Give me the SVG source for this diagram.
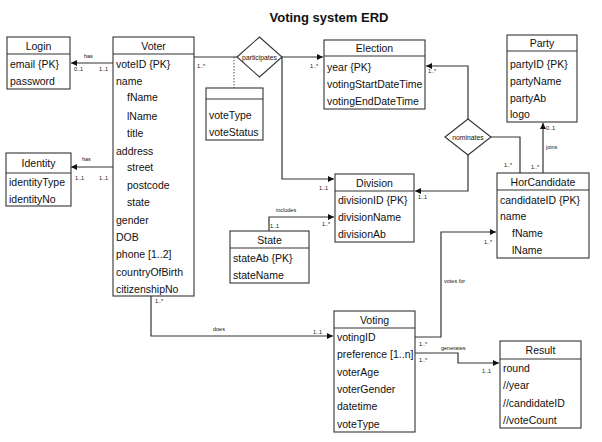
<svg xmlns="http://www.w3.org/2000/svg" width="602" height="442" viewBox="0 0 602 442">
<style>
text{font-family:"Liberation Sans",Arial,sans-serif;fill:#111}
.t{font-size:13px;font-weight:bold;text-anchor:middle}
.h{font-size:10.5px;text-anchor:middle}
.a{font-size:10.5px}
.s{font-size:5.5px}
.rl{font-size:6.8px}
.box{fill:#fff;stroke:#333;stroke-width:1.1}
.ln{fill:none;stroke:#333;stroke-width:1.2}
.dot{fill:none;stroke:#555;stroke-width:1;stroke-dasharray:1.5,1.5}
</style>
<defs>
<marker id="ar" viewBox="0 0 10 10" refX="10" refY="5" markerWidth="6" markerHeight="6" orient="auto" markerUnits="userSpaceOnUse">
<path d="M0,0 L10,5 L0,10 z" fill="#111"/>
</marker>
</defs>
<rect width="602" height="442" fill="#fff"/>
<text class="t" x="329" y="22">Voting system ERD</text>

<g id="connectors">
<line class="ln" x1="113" y1="63" x2="71" y2="63" marker-end="url(#ar)"/>
<text class="s" x="84" y="58">has</text>
<text class="s" x="74" y="71">0..1</text>
<text class="s" x="99" y="71">1..1</text>
<line class="ln" x1="113" y1="167" x2="71" y2="167" marker-end="url(#ar)"/>
<text class="s" x="82" y="161">has</text>
<text class="s" x="75" y="180">1..1</text>
<text class="s" x="99" y="180">1..1</text>
<line class="ln" x1="194" y1="57" x2="237" y2="57"/>
<line class="ln" x1="282" y1="57" x2="323" y2="57" marker-end="url(#ar)"/>
<polyline class="ln" points="282,57 282,179 334,179" marker-end="url(#ar)"/>
<line class="dot" x1="234" y1="57" x2="234" y2="88"/>
<text class="s" x="197" y="68">1..*</text>
<text class="s" x="310" y="68">1..*</text>
<text class="s" x="319" y="190">1..1</text>
<polyline class="ln" points="468,119 468,66 426,66" marker-end="url(#ar)"/>
<polyline class="ln" points="491,137 520,137 520,173"/>
<polyline class="ln" points="468,155 468,191 415,191" marker-end="url(#ar)"/>
<text class="s" x="428" y="73">1..*</text>
<text class="s" x="504" y="167">1..*</text>
<text class="s" x="418" y="199">1..1</text>
<line class="ln" x1="543" y1="173" x2="543" y2="123" marker-end="url(#ar)"/>
<text class="s" x="546" y="130">0..1</text>
<text class="s" x="546" y="149">joins</text>
<text class="s" x="531" y="169">1..*</text>
<polyline class="ln" points="269,231 269,217 334,217" marker-end="url(#ar)"/>
<text class="s" x="276" y="212">includes</text>
<text class="s" x="270" y="228">1..1</text>
<text class="s" x="322" y="226">1..*</text>
<polyline class="ln" points="151,296 151,336 333,336" marker-end="url(#ar)"/>
<text class="s" x="155" y="303">1..*</text>
<text class="s" x="213" y="331">does</text>
<text class="s" x="313" y="334">1..1</text>
<polyline class="ln" points="415,337 441,337 441,232 496,232" marker-end="url(#ar)"/>
<text class="s" x="444" y="283">votes for</text>
<text class="s" x="484" y="244">1..*</text>
<text class="s" x="419" y="346">1..*</text>
<polyline class="ln" points="415,353 458,353 458,363 499,363" marker-end="url(#ar)"/>
<text class="s" x="441" y="350">generates</text>
<text class="s" x="419" y="362">1..*</text>
<text class="s" x="482" y="373">1..1</text>
</g>

<g id="participates">
<polygon class="box" points="237,57 259.5,37 282,57 259.5,77"/>
<text class="rl" x="259.5" y="59.5" text-anchor="middle">participates</text>
</g>

<g id="participatesAttrs">
<rect class="box" x="206" y="88" width="57" height="52"/>
<line class="ln" x1="206" y1="99" x2="263" y2="99"/>
<text class="a" x="209" y="119">voteType</text>
<text class="a" x="209" y="136">voteStatus</text>
</g>

<g id="nominates">
<polygon class="box" points="445,137 468,119 491,137 468,155"/>
<text class="rl" x="468" y="139.5" text-anchor="middle">nominates</text>
</g>

<g id="Login">
<rect class="box" x="7" y="37" width="63" height="52"/>
<line class="ln" x1="7" y1="54" x2="70" y2="54"/>
<text class="h" x="38.5" y="49.5">Login</text>
<text class="a" x="10" y="68">email {PK}</text>
<text class="a" x="10" y="85">password</text>
</g>

<g id="Identity">
<rect class="box" x="6" y="153" width="65" height="53"/>
<line class="ln" x1="6" y1="173" x2="71" y2="173"/>
<text class="h" x="38.5" y="167">Identity</text>
<text class="a" x="9" y="186">identityType</text>
<text class="a" x="9" y="203">identityNo</text>
</g>

<g id="Voter">
<rect class="box" x="113" y="37" width="81" height="259"/>
<line class="ln" x1="113" y1="54" x2="194" y2="54"/>
<text class="h" x="153.5" y="49.5">Voter</text>
<text class="a" x="116" y="68">voteID {PK}</text>
<text class="a" x="116" y="85">name</text>
<text class="a" x="127" y="101">fName</text>
<text class="a" x="127" y="120">lName</text>
<text class="a" x="127" y="137">title</text>
<text class="a" x="116" y="155">address</text>
<text class="a" x="127" y="171">street</text>
<text class="a" x="127" y="189">postcode</text>
<text class="a" x="127" y="206">state</text>
<text class="a" x="116" y="224">gender</text>
<text class="a" x="116" y="241">DOB</text>
<text class="a" x="116" y="258">phone [1..2]</text>
<text class="a" x="116" y="276">countryOfBirth</text>
<text class="a" x="116" y="293">citizenshipNo</text>
</g>

<g id="Election">
<rect class="box" x="324" y="40" width="101" height="69"/>
<line class="ln" x1="324" y1="56" x2="425" y2="56"/>
<text class="h" x="374.5" y="52">Election</text>
<text class="a" x="327" y="71">year {PK}</text>
<text class="a" x="327" y="88">votingStartDateTime</text>
<text class="a" x="327" y="105">votingEndDateTime</text>
</g>

<g id="Party">
<rect class="box" x="507" y="35" width="70" height="87"/>
<line class="ln" x1="507" y1="51" x2="577" y2="51"/>
<text class="h" x="542" y="47">Party</text>
<text class="a" x="510" y="68">partyID {PK}</text>
<text class="a" x="510" y="85">partyName</text>
<text class="a" x="510" y="102">partyAb</text>
<text class="a" x="510" y="118">logo</text>
</g>

<g id="Division">
<rect class="box" x="335" y="174" width="79" height="68"/>
<line class="ln" x1="335" y1="191" x2="414" y2="191"/>
<text class="h" x="374.5" y="186.5">Division</text>
<text class="a" x="338" y="204">divisionID {PK}</text>
<text class="a" x="338" y="221">divisionName</text>
<text class="a" x="338" y="238">divisionAb</text>
</g>

<g id="HorCandidate">
<rect class="box" x="497" y="173" width="92" height="85"/>
<line class="ln" x1="497" y1="190" x2="589" y2="190"/>
<text class="h" x="543" y="185.5">HorCandidate</text>
<text class="a" x="500" y="204">candidateID {PK}</text>
<text class="a" x="500" y="220">name</text>
<text class="a" x="512" y="237">fName</text>
<text class="a" x="512" y="254">lName</text>
</g>

<g id="State">
<rect class="box" x="230" y="231" width="79" height="52"/>
<line class="ln" x1="230" y1="248" x2="309" y2="248"/>
<text class="h" x="269.5" y="244">State</text>
<text class="a" x="233" y="262">stateAb {PK}</text>
<text class="a" x="233" y="279">stateName</text>
</g>

<g id="Voting">
<rect class="box" x="334" y="311" width="81" height="121"/>
<line class="ln" x1="334" y1="328" x2="415" y2="328"/>
<text class="h" x="374.5" y="323.5">Voting</text>
<text class="a" x="337" y="341">votingID</text>
<text class="a" x="337" y="358">preference [1..n]</text>
<text class="a" x="337" y="376">voterAge</text>
<text class="a" x="337" y="393">voterGender</text>
<text class="a" x="337" y="410">datetime</text>
<text class="a" x="337" y="428">voteType</text>
</g>

<g id="Result">
<rect class="box" x="500" y="341" width="81" height="87"/>
<line class="ln" x1="500" y1="359" x2="581" y2="359"/>
<text class="h" x="540.5" y="354">Result</text>
<text class="a" x="503" y="372">round</text>
<text class="a" x="503" y="389">//year</text>
<text class="a" x="503" y="407">//candidateID</text>
<text class="a" x="503" y="424">//voteCount</text>
</g>
</svg>
